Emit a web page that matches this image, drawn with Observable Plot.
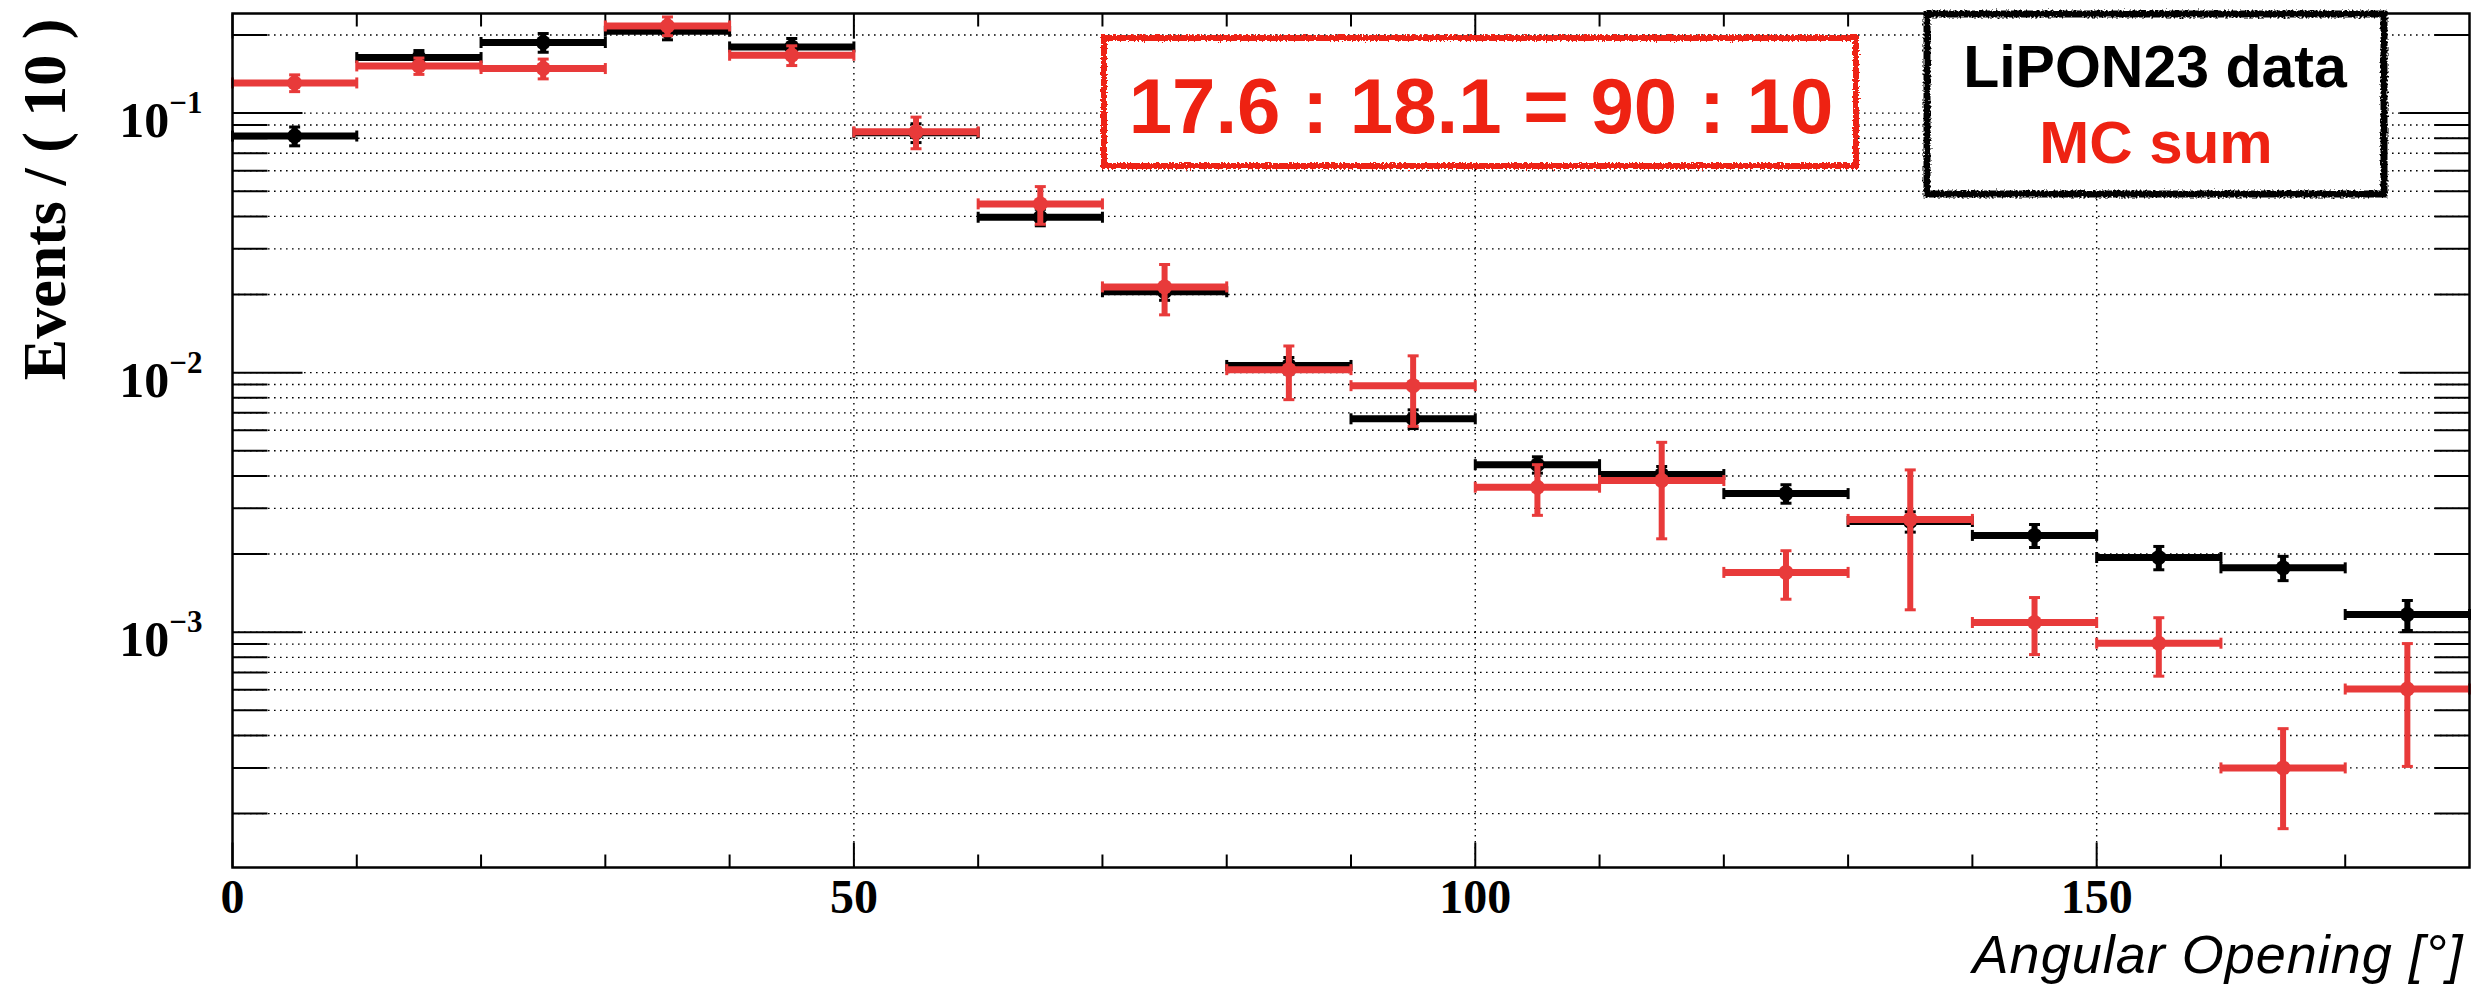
<!DOCTYPE html>
<html>
<head>
<meta charset="utf-8">
<script src="https://cdn.jsdelivr.net/npm/d3@7"></script>
<script src="https://cdn.jsdelivr.net/npm/@observablehq/plot@0.6"></script>
<style>
html, body { margin: 0; padding: 0; background: #fff; overflow: hidden; }
#chart svg { display: block; }
</style>
</head>
<body>
<div id="chart"></div>
<script>
// ---------------- data ----------------
const binLow    = [0, 10, 20, 30, 40, 50, 60, 70, 80, 90, 100, 110, 120, 130, 140, 150, 160, 170];
const binHigh   = [10, 20, 30, 40, 50, 60, 70, 80, 90, 100, 110, 120, 130, 140, 150, 160, 170, 180];
const binCenter = [5, 15, 25, 35, 45, 55, 65, 75, 85, 95, 105, 115, 125, 135, 145, 155, 165, 175];

// LiPON23 data (black)
const dataValue = [0.0816, 0.1637, 0.1871, 0.2067, 0.1799, 0.0840, 0.0397, 0.0205, 0.01066, 0.00664,
                   0.00442, 0.00405, 0.00342, 0.00267, 0.00236, 0.00194, 0.00177, 0.00117];
const dataErr   = [0.0068, 0.0105, 0.0155, 0.0151, 0.0140, 0.0070, 0.0029, 0.0015, 0.00078, 0.00055,
                   0.00032, 0.00030, 0.00028, 0.00024, 0.00024, 0.00020, 0.00019, 0.000155];

// MC sum (red)
const mcValue = [0.1307, 0.1520, 0.1485, 0.2167, 0.1671, 0.0847, 0.0447, 0.0214, 0.01027, 0.00891,
                 0.00362, 0.00384, 0.00170, 0.00272, 0.00109, 0.000907, 0.000300, 0.000604];
const mcErr   = [0.0097, 0.0110, 0.0130, 0.0180, 0.0146, 0.0118, 0.0074, 0.0047, 0.0024, 0.0027,
                 0.0008, 0.00155, 0.00036, 0.0015, 0.00027, 0.00023, 0.000125, 0.0003];

// axes
const xMajorTicks = [0, 50, 100, 150];
const xMinorTicks = [10, 20, 30, 40, 60, 70, 80, 90, 110, 120, 130, 140, 160, 170];
const xGrid = [50, 100, 150];
const yDecades = [1e-3, 1e-2, 1e-1];
const yTickLabels = ["10^\u22123", "10^\u22122", "10^\u22121"];
const yMinor = [2e-4, 3e-4, 4e-4, 5e-4, 6e-4, 7e-4, 8e-4, 9e-4,
                2e-3, 3e-3, 4e-3, 5e-3, 6e-3, 7e-3, 8e-3, 9e-3,
                2e-2, 3e-2, 4e-2, 5e-2, 6e-2, 7e-2, 8e-2, 9e-2,
                0.2];

// texts
const yTitle = "Events / ( 10 )";
const xTitle = "Angular Opening [\u00b0]";
const ratioText = "17.6 : 18.1 = 90 : 10";
const legendDataText = "LiPON23 data";
const legendMCText = "MC sum";

// ---------------- styling ----------------
const RED = "#e83a3a";
const TEXT_RED = "#ee2212";

const rowsData = binLow.map((lo, i) => ({lo, hi: binHigh[i], c: binCenter[i], v: dataValue[i], e: dataErr[i]}));
const rowsMC   = binLow.map((lo, i) => ({lo, hi: binHigh[i], c: binCenter[i], v: mcValue[i], e: mcErr[i]}));

const seg = (dx, dy) => ({draw(ctx) { ctx.moveTo(0, 0); ctx.lineTo(dx, dy); }});
const box = (w, h) => ({draw(ctx) { ctx.rect(-w / 2, -h / 2, w, h); }});
const vCap = box(3, 11);
const hCap = box(11, 3);

function seriesMarks(rows, color) {
  return [
    Plot.ruleY(rows, {x1: "lo", x2: "hi", y: "v", stroke: color, strokeWidth: 7}),
    Plot.ruleX(rows, {x: "c", y1: d => d.v - d.e, y2: d => d.v + d.e, stroke: color, strokeWidth: 6}),
    Plot.dot(rows, {x: "lo", y: "v", symbol: vCap, fill: color, stroke: "none"}),
    Plot.dot(rows, {x: "hi", y: "v", symbol: vCap, fill: color, stroke: "none"}),
    Plot.dot(rows, {x: "c", y: d => d.v - d.e, symbol: hCap, fill: color, stroke: "none"}),
    Plot.dot(rows, {x: "c", y: d => d.v + d.e, symbol: hCap, fill: color, stroke: "none"}),
    Plot.dot(rows, {x: "c", y: "v", r: 7.5, fill: color, stroke: "none"})
  ];
}

// annotation boxes (pixel layout)
const annotations = () => {
  const g = d3.create("svg:g");
  const f = g.append("defs").append("filter").attr("id", "rough")
    .attr("x", "-5%").attr("y", "-10%").attr("width", "110%").attr("height", "120%");
  f.append("feTurbulence").attr("type", "fractalNoise").attr("baseFrequency", "0.5")
    .attr("numOctaves", 2).attr("seed", 4).attr("result", "noise");
  f.append("feDisplacementMap").attr("in", "SourceGraphic").attr("in2", "noise")
    .attr("scale", 6).attr("xChannelSelector", "R").attr("yChannelSelector", "G");

  const specs = [
    {x: 1104, y: 38, w: 752, h: 128, stroke: TEXT_RED, sw: 6},
    {x: 1927, y: 14, w: 457, h: 180, stroke: "#000", sw: 7}
  ];
  for (const s of specs) {
    g.append("rect").attr("x", s.x).attr("y", s.y).attr("width", s.w).attr("height", s.h).attr("fill", "#fff");
    g.append("rect").attr("x", s.x).attr("y", s.y).attr("width", s.w).attr("height", s.h)
      .attr("fill", "none").attr("stroke", s.stroke).attr("stroke-width", s.sw).attr("filter", "url(#rough)");
  }
  const txt = (str, x, y, size, color) => g.append("text").attr("x", x).attr("y", y)
    .attr("text-anchor", "middle").attr("font-family", "'Liberation Sans', Arial, sans-serif")
    .attr("font-weight", "bold").attr("font-size", size).attr("fill", color).text(str);
  txt(ratioText, 1481, 133, 78, TEXT_RED);
  txt(legendDataText, 2155, 87, 59, "#000");
  txt(legendMCText, 2156, 163, 60, TEXT_RED);
  return g.node();
};

const chart = Plot.plot({
  width: 2491,
  height: 984,
  marginLeft: 232,
  marginRight: 22,
  marginTop: 13,
  marginBottom: 117,
  style: {background: "#fff", fontFamily: "'Liberation Serif', 'Times New Roman', serif"},
  x: {domain: [0, 180], axis: null},
  y: {type: "log", domain: [1.24e-4, 0.242], axis: null},
  marks: [
    // dotted grid
    Plot.ruleY(yMinor.concat(yDecades), {stroke: "#000", strokeWidth: 1.4, strokeDasharray: "1.6,4.4"}),
    Plot.ruleX(xGrid, {stroke: "#000", strokeWidth: 1.4, strokeDasharray: "1.6,4.4"}),
    // y ticks left / right
    Plot.dot(yDecades, {x: 0, y: d => d, symbol: seg(70, 0), fill: "none", stroke: "#000", strokeWidth: 2}),
    Plot.dot(yMinor, {x: 0, y: d => d, symbol: seg(35, 0), fill: "none", stroke: "#000", strokeWidth: 2}),
    Plot.dot(yDecades, {x: 180, y: d => d, symbol: seg(-70, 0), fill: "none", stroke: "#000", strokeWidth: 2}),
    Plot.dot(yMinor, {x: 180, y: d => d, symbol: seg(-35, 0), fill: "none", stroke: "#000", strokeWidth: 2}),
    // x ticks bottom / top
    Plot.dot(xMajorTicks, {x: d => d, frameAnchor: "bottom", symbol: seg(0, -25), fill: "none", stroke: "#000", strokeWidth: 2}),
    Plot.dot(xMinorTicks, {x: d => d, frameAnchor: "bottom", symbol: seg(0, -13), fill: "none", stroke: "#000", strokeWidth: 2}),
    Plot.dot(xMajorTicks, {x: d => d, frameAnchor: "top", symbol: seg(0, 25), fill: "none", stroke: "#000", strokeWidth: 2}),
    Plot.dot(xMinorTicks, {x: d => d, frameAnchor: "top", symbol: seg(0, 13), fill: "none", stroke: "#000", strokeWidth: 2}),
    // series: data first, MC on top
    ...seriesMarks(rowsData, "#000"),
    ...seriesMarks(rowsMC, RED),
    Plot.frame({stroke: "#000", strokeWidth: 2.5}),
    annotations,
    // tick labels
    Plot.text(xMajorTicks, {x: d => d, frameAnchor: "bottom", text: d => String(d), lineAnchor: "top",
      dy: 11, fontSize: 48, fontWeight: "bold", fill: "#000"}),
    Plot.text(yDecades, {x: 0, y: d => d, text: (d, i) => yTickLabels[i], textAnchor: "end",
      dx: -30, dy: 8, fontSize: 50, fontWeight: "bold", fill: "#000"}),
    // axis titles
    Plot.text([yTitle], {frameAnchor: "top-left", rotate: -90, textAnchor: "end", lineAnchor: "bottom",
      dx: -168, dy: 5, fontSize: 62, fontWeight: "bold", fill: "#000"}),
    Plot.text([xTitle], {frameAnchor: "bottom-right", textAnchor: "end", lineAnchor: "bottom",
      dx: -6, dy: 105, fontSize: 54, fontStyle: "italic", fontWeight: 400,
      fontFamily: "'Liberation Sans', Arial, sans-serif", fill: "#000"})
  ]
});

// superscript exponents for the log tick labels; letter spacing for the x title
d3.select(chart).selectAll("text").each(function () {
  const t = this.textContent;
  if (t.includes("^")) {
    const [base, exp] = t.split("^");
    this.textContent = base;
    d3.select(this).append("tspan").attr("dy", -24).attr("font-size", 31).text(exp);
  } else if (t === xTitle) {
    this.setAttribute("letter-spacing", "1");
  }
});

document.getElementById("chart").appendChild(chart);
</script>
</body>
</html>
